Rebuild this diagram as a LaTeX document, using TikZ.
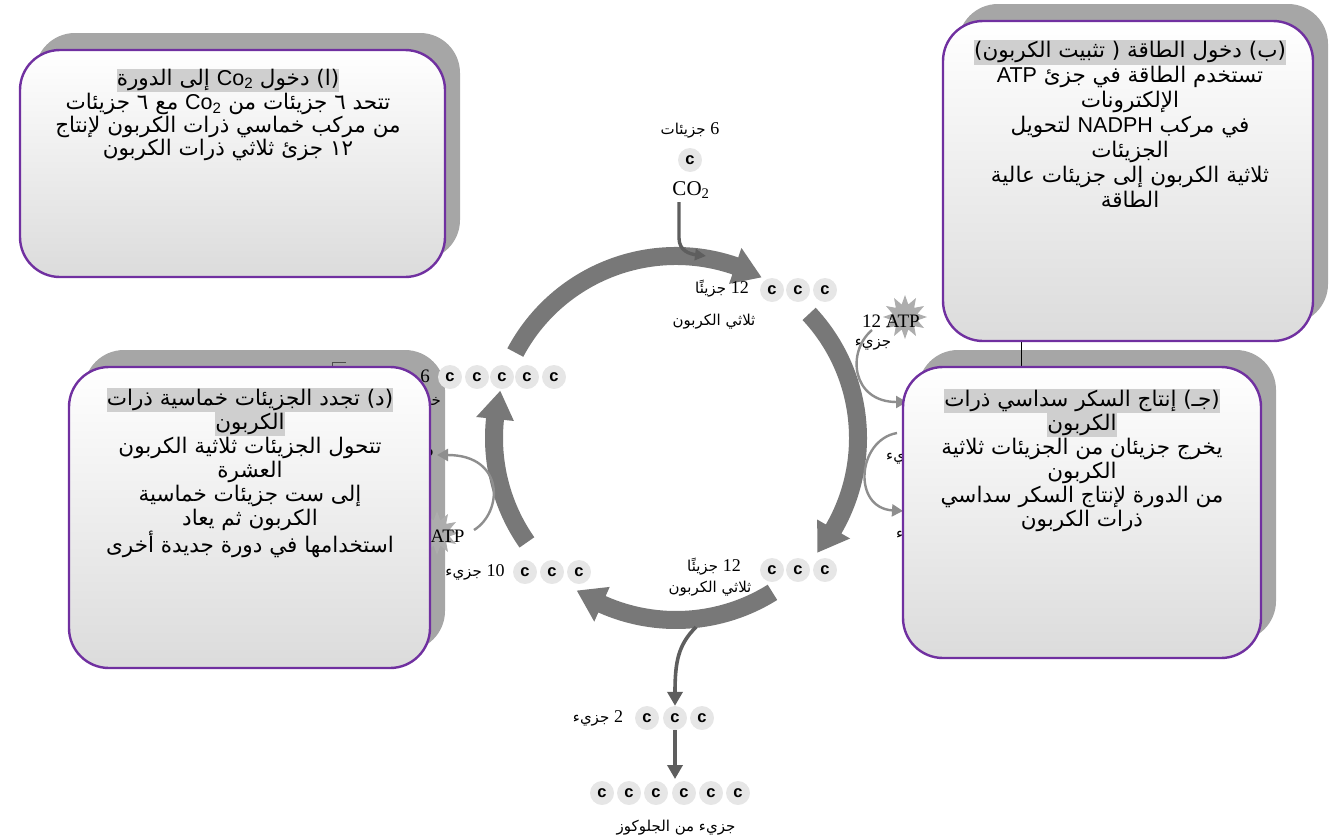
\documentclass[tikz,border=0pt]{standalone}
\usepackage{fontspec}
\setmainfont{Liberation Sans}
\newfontfamily\arabicfont[Script=Arabic]{DejaVu Sans}
\newfontfamily\latinsans{Liberation Sans}
\newfontfamily\latinserif{Liberation Serif}
\TeXXeTstate=1
\usetikzlibrary{shapes.geometric,arrows.meta,calc}

\definecolor{boxpurple}{HTML}{7030A0}
\definecolor{shadowgray}{HTML}{A6A6A6}
\definecolor{hlgray}{HTML}{CFCFCF}
\definecolor{cyclegray}{HTML}{787878}
\definecolor{sidegray}{HTML}{8E8E8E}
\definecolor{darkarrow}{HTML}{5E5E5E}
\definecolor{carbonfill}{HTML}{E6E6E6}
\definecolor{stargray}{HTML}{ADADAD}

% Arabic line (right to left), Latin insertions, highlighted title line
\newcommand\arline[1]{{\arabicfont\beginR #1\endR}}
\newcommand\lsans[1]{\beginL{\latinsans #1}\endL}
\newcommand\dg[1]{\beginL{\latinserif\fontsize{18}{18}\selectfont #1}\endL}
\newcommand\hlline[1]{{\setlength\fboxsep{0pt}\colorbox{hlgray}{\strut\arline{#1}}}}

\pgfdeclarelayer{back}
\pgfsetlayers{back,main}

% thick arc arrow of the cycle, angles measured clockwise from east
\newcommand\cyclearrow[2]{%
  \fill[cyclegray] ($(cyc)+(#1:191)$) arc[start angle=#1, end angle=#2-9, radius=191]
    -- ($(cyc)+(#2-9:201)$) -- ($(cyc)+(#2:182)$) -- ($(cyc)+(#2-9:163)$)
    -- ($(cyc)+(#2-9:173)$) arc[start angle=#2-9, end angle=#1, radius=173] -- cycle;}

\tikzset{
  panel/.style={draw=boxpurple, line width=2.4pt, rounded corners=40pt,
    top color=white, bottom color=black!14, inner sep=0pt},
  panelshadow/.style={fill=shadowgray, rounded corners=40pt},
  paneltext/.style={anchor=north, align=center, inner sep=0pt,
    font=\fontsize{21.5}{24}\selectfont},
  carbon/.style={circle, fill=carbonfill, minimum size=24pt, inner sep=0pt,
    font=\latinsans\bfseries\fontsize{16.5}{16.5}\selectfont},
  lab/.style={inner sep=0pt, font=\fontsize{15}{17}\selectfont},
  serifbig/.style={font=\latinserif\fontsize{19}{19}\selectfont},
  sidearrow/.style={draw=sidegray, line width=2.4pt, -{Triangle[length=11pt,width=12pt]}},
  mainarrow/.style={draw=darkarrow, line width=3.6pt, -{Triangle[length=14pt,width=15pt]}},
  atpstar/.style={star, star points=12, star point ratio=1.7, fill=stargray,
    minimum size=44pt, inner sep=0pt},
}

\begin{document}
\begin{tikzpicture}[x=1pt, y=-1pt]
\useasboundingbox (0,0) rectangle (1335,838);
\coordinate (cyc) at (676,438);

% ---------- front panels ----------
\node[panel, minimum width=425pt, minimum height=227pt] (boxA) at (232.5,163.5) {};
\node[panel, minimum width=370pt, minimum height=320pt] (boxB) at (1128,181) {};
\node[panel, minimum width=358pt, minimum height=291pt] (boxC) at (1082,512.5) {};
\node[panel, minimum width=361pt, minimum height=301pt] (boxD) at (249.5,517.5) {};

% ---------- panel texts ----------
\node[paneltext, font=\fontsize{21.5}{23}\selectfont] (tA) at (228,69) {%
  \hlline{(ا) دخول \lsans{Co\textsubscript{2}} إلى الدورة}\\
  \arline{تتحد ٦ جزيئات من \lsans{Co\textsubscript{2}} مع ٦ جزيئات}\\
  \arline{من مركب خماسي ذرات الكربون لإنتاج}\\
  \arline{١٢ جزئ ثلاثي ذرات الكربون}};

\node[paneltext, font=\fontsize{21.5}{25}\selectfont] (tB) at (1130,40) {%
  \hlline{(ب) دخول الطاقة ( تثبيت الكربون)}\\
  \arline{تستخدم الطاقة في جزئ \lsans{ATP}}\\
  \arline{الإلكترونات}\\
  \arline{في مركب \lsans{NADPH} لتحويل}\\
  \arline{الجزيئات}\\
  \arline{ثلاثية الكربون إلى جزيئات عالية}\\
  \arline{الطاقة}};

\node[paneltext] (tC) at (1082,389) {%
  \hlline{(جـ) إنتاج السكر سداسي ذرات}\\
  \hlline{الكربون}\\
  \arline{يخرج جزيئان من الجزيئات ثلاثية}\\
  \arline{الكربون}\\
  \arline{من الدورة لإنتاج  السكر سداسي}\\
  \arline{ذرات الكربون}};

\node[paneltext] (tD) at (250,388) {%
  \hlline{(د) تجدد الجزيئات خماسية ذرات}\\
  \hlline{الكربون}\\
  \arline{تتحول الجزيئات ثلاثية الكربون}\\
  \arline{العشرة}\\
  \arline{إلى ست  جزيئات خماسية}\\
  \arline{الكربون ثم يعاد}\\
  \arline{استخدامها في دورة جديدة أخرى}};

\begin{pgfonlayer}{back}
% ---------- panel shadows ----------
\fill[panelshadow] (35,33) rectangle (460,260);
\fill[panelshadow] (958,4) rectangle (1328,324);
\fill[panelshadow] (918,350) rectangle (1276,641);
\fill[panelshadow] (84,350) rectangle (445,651);

% ---------- the cycle ----------
\cyclearrow{-152}{-62}
\cyclearrow{-43}{39}
\cyclearrow{58}{123}
\cyclearrow{145}{195}

% CO2 entering
\node[lab] (nCO2) at (690,130) {\arline{\dg{6} جزيئات}};
\node[carbon] (cCO2) at (690,160) {c};
\node[serifbig, font=\latinserif\fontsize{21}{21}\selectfont] (co2) at (691,190) {CO\textsubscript{2}};
\coordinate (co2in) at (706,256);
\draw[draw=darkarrow, line width=3.4pt, -{Triangle[length=11pt,width=11pt]}]
  (co2.south -| 679,0) -- (679,238) .. controls (679,251) and (690,254) .. (co2in);

% 12 three-carbon molecules (top)
\foreach \i/\x in {1/772,2/798,3/825} \node[carbon] (ta\i) at (\x,290) {c};
\node[lab, anchor=east] (nta) at (749,289) {\arline{\dg{12} جزيئًا}};
\node[lab] (nta2) at (714,322) {\arline{ثلاثي الكربون}};

% ATP used on the right
\node[atpstar] (starR) at (905,317) {};
\node[serifbig] (atpR) at (891,321) {12 ATP};
\node[lab] (atpRm) at (873,345) {\arline{جزيء}};
\coordinate (atpRa) at (872,330);
\coordinate (atpRb) at (907,402);
\draw[sidearrow] (atpRa) .. controls (846,352) and (852,402) .. (atpRb);
\node[lab, anchor=west] (fragR1) at (886,459) {\arline{جزيء}};
\coordinate (nadRa) at (897,433);
\coordinate (nadRb) at (903,511);
\draw[sidearrow] (nadRa) .. controls (857,440) and (852,508) .. (nadRb);
\node[lab, anchor=west] (fragR2) at (896,537) {\arline{جزيء}};

% 12 three-carbon molecules (bottom)
\foreach \i/\x in {1/772,2/798,3/825} \node[carbon] (tb\i) at (\x,570) {c};
\node[lab] (ntb) at (714,567) {\arline{\dg{12} جزيئًا}};
\node[lab] (ntb2) at (710,589) {\arline{ثلاثي الكربون}};

% two molecules leave the cycle
\coordinate (outA) at (696,627);
\foreach \i/\x in {1/647,2/675,3/702} \node[carbon] (tw\i) at (\x,718) {c};
\node[lab] (ntw) at (598,718) {\arline{\dg{2} جزيء}};
\draw[mainarrow] (outA) .. controls (678,645) and (675,662) .. (tw2.north);
\foreach \i/\x in {1/602,2/629,3/656,4/684,5/711,6/738} \node[carbon] (gl\i) at (\x,793) {c};
\coordinate (glTop) at (675,779);
\draw[mainarrow] (tw2.south) -- (glTop);
\node[lab] (ngl) at (676,828) {\arline{جزيء من الجلوكوز}};

% 10 molecules and ATP on the left
\foreach \i/\x in {1/525,2/552,3/579} \node[carbon] (tt\i) at (\x,572) {c};
\node[lab] (ntt) at (475,572) {\arline{\dg{10} جزيء}};
\node[atpstar] (starL) at (437,533) {};
\node[serifbig, anchor=east] (atpL) at (468,536) {ATP};
\coordinate (atpLa) at (474,530);
\node[serifbig, anchor=east] (adpL) at (437,455) {ADP};
\draw[sidearrow] (atpLa) .. controls (503,512) and (505,455) .. (adpL.east);

% 6 five-carbon molecules
\foreach \i/\x in {1/450,2/477,3/502,4/527,5/554} \node[carbon] (tf\i) at (\x,377) {c};
\node[serifbig] (ntf) at (425,376) {6};
\node[lab, anchor=east] (ntf2) at (441,401) {\arline{خماسية}};

% thin connector lines
\draw[black, line width=1pt] (boxB.south -| 1021,0) -- (boxC.north -| 1021,0);
\coordinate (dl1) at (346,362);
\draw[black!70, line width=0.8pt] (dl1) -| (332,370);
\end{pgfonlayer}
\end{tikzpicture}
\end{document}
